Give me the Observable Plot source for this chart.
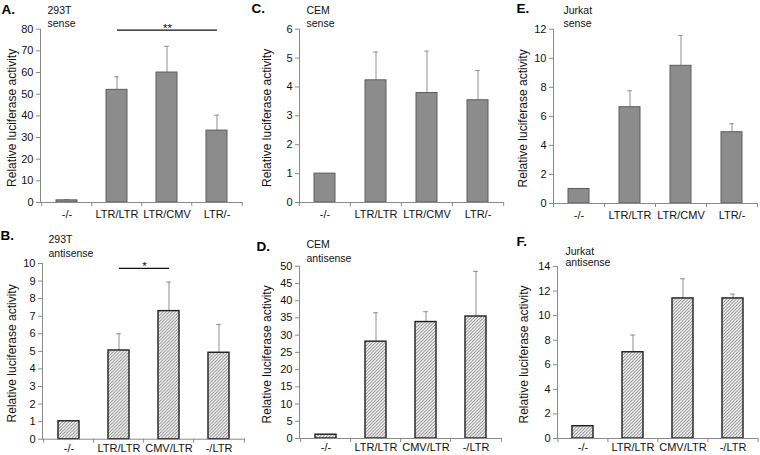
<!DOCTYPE html>
<html><head><meta charset="utf-8">
<script src="https://cdn.jsdelivr.net/npm/d3@7"></script>
<script src="https://cdn.jsdelivr.net/npm/@observablehq/plot@0.6"></script>
<style>
body{margin:0;background:#fff;}
#fig{position:relative;width:760px;height:455px;overflow:hidden;background:#fff;}
#fig svg{position:absolute;overflow:visible;}
</style></head><body><div id="fig"></div>
<script>
// ---- data ----
const senseCats = ["-/-", "LTR/LTR", "LTR/CMV", "LTR/-"];
const antisenseCats = ["-/-", "LTR/LTR", "CMV/LTR", "-/LTR"];

const meanA = [1.0, 52.0, 60.0, 33.2];   // 293T sense
const errA  = [0.3, 6.0, 12.1, 7.1];
const meanC = [1.0, 4.23, 3.79, 3.54];   // CEM sense
const errC  = [0, 0.98, 1.45, 1.03];
const meanE = [1.0, 6.63, 9.48, 4.91];   // Jurkat sense
const errE  = [0, 1.13, 2.09, 0.58];
const meanB = [1.02, 5.05, 7.29, 4.92];  // 293T antisense
const errB  = [0.04, 0.95, 1.65, 1.61];
const meanD = [1.1, 28.1, 33.8, 35.4];   // CEM antisense
const errD  = [0, 8.4, 3.0, 13.1];
const meanF = [1.0, 7.02, 11.4, 11.4];   // Jurkat antisense
const errF  = [0, 1.4, 1.6, 0.35];

const ticksA = d3.range(0, 81, 10);
const ticksC = d3.range(0, 7, 1);
const ticksE = d3.range(0, 13, 2);
const ticksB = d3.range(0, 11, 1);
const ticksD = d3.range(0, 51, 5);
const ticksF = d3.range(0, 15, 2);

const sigA = [{from: "LTR/LTR", to: "LTR/-", y: 79.6, label: "**"}];
const sigB = [{from: "LTR/LTR", to: "CMV/LTR", y: 9.72, label: "*"}];

const yLabel = "Relative luciferase activity";
const FONT = "'Liberation Sans', Arial, sans-serif";

function panel(cfg) {
  const {id, left, top, width, height, ml, mr, mt, mb, cats, means, errs, ticks, hatch,
         letter, cell, strand, letterPos, cellPos, strandY, ylabX, xPad, sig} = cfg;
  const data = cats.map((c, i) => ({c, v: means[i], e: errs[i]}));
  const withErr = data.filter(d => d.e > 0);
  const step = (width - ml - mr) / cats.length;
  const pi = 0.58;
  const bw = step * (1 - pi);
  const capInset = (bw - 5) / 2;
  const fx = x => x - left - ml;
  const fy = y => y - top - mt;
  const marks = [
    Plot.ruleX(withErr, {x: "c", y1: "v", y2: d => d.v + d.e, stroke: "#8f8f8f", strokeWidth: 1}),
    Plot.tickY(withErr, {x: "c", y: d => d.v + d.e, insetLeft: capInset, insetRight: capInset, stroke: "#8f8f8f", strokeWidth: 1}),
    Plot.barY(data, {x: "c", y: "v",
      fill: hatch ? `url(#hatch-${id})` : "#8c8c8c",
      stroke: hatch ? "#1e1e1e" : "#5c5c5c",
      strokeWidth: hatch ? 1.4 : 1}),
    Plot.frame({anchor: "left", stroke: "#8a8a8a"}),
    Plot.ruleY([0], {stroke: "#8a8a8a"}),
    Plot.ruleX(cats, {x: d => d, y1: 0, y2: 0, dx: -step / 2, insetBottom: -4, stroke: "#8a8a8a"}),
    Plot.ruleX([cats[cats.length - 1]], {x: d => d, y1: 0, y2: 0, dx: step / 2, insetBottom: -4, stroke: "#8a8a8a"}),
    Plot.axisY({ticks, tickSize: 4, tickPadding: 3, stroke: "#8a8a8a", fill: "#111", label: null, fontSize: 11, tickFormat: d => String(d)}),
    Plot.axisX({tickSize: 0, tickPadding: xPad, fill: "#111", label: null, fontSize: 11}),
    Plot.text([yLabel], {frameAnchor: "left", rotate: -90, dx: fx(ylabX), dy: 2, textAnchor: "middle", lineAnchor: "middle", fontSize: 12, fill: "#111"}),
    Plot.text([letter], {frameAnchor: "top-left", dx: fx(letterPos[0]), dy: fy(letterPos[1]), textAnchor: "start", lineAnchor: "bottom", fontSize: 13.5, fontWeight: "bold", fill: "#000"}),
    Plot.text([cell], {frameAnchor: "top-left", dx: fx(cellPos[0]), dy: fy(cellPos[1]), textAnchor: "start", lineAnchor: "bottom", fontSize: 10.5, fill: "#111"}),
    Plot.text([strand], {frameAnchor: "top-left", dx: fx(cellPos[0]), dy: fy(strandY), textAnchor: "start", lineAnchor: "bottom", fontSize: 10.5, fill: "#111"})
  ];
  if (sig) {
    marks.push(Plot.link(sig, {x1: "from", x2: "to", y1: "y", y2: "y", stroke: "#111", strokeWidth: 1.2}));
    for (const s of sig) {
      const half = (cats.indexOf(s.to) - cats.indexOf(s.from)) / 2 * step;
      marks.push(Plot.text([s], {x: "from", y: "y", text: "label", dx: half, dy: 1.5,
        lineAnchor: "bottom", fontSize: 11.5, fill: "#111"}));
    }
  }
  const svg = Plot.plot({
    width, height, marginLeft: ml, marginRight: mr, marginTop: mt, marginBottom: mb,
    style: {fontFamily: FONT, fontSize: "11px", color: "#111", background: "transparent", overflow: "visible"},
    x: {domain: cats, paddingInner: pi, paddingOuter: pi / 2},
    y: {domain: [0, ticks[ticks.length - 1]]},
    marks
  });
  if (hatch) {
    const pat = d3.select(svg).insert("defs", ":first-child").append("pattern")
      .attr("id", `hatch-${id}`).attr("patternUnits", "userSpaceOnUse")
      .attr("width", 3.2).attr("height", 3.2);
    pat.append("rect").attr("width", 3.2).attr("height", 3.2).attr("fill", "#fff");
    pat.append("path").attr("d", "M-0.8,0.8 L0.8,-0.8 M0,3.2 L3.2,0 M2.4,4 L4,2.4")
      .attr("stroke", "#7a7a7a").attr("stroke-width", 0.9);
  }
  svg.style.left = left + "px";
  svg.style.top = top + "px";
  document.getElementById("fig").appendChild(svg);
}

panel({id: "A", left: 0, top: 0, width: 245, height: 225, ml: 40, mr: 3, mt: 28.7, mb: 23,
  cats: senseCats, means: meanA, errs: errA, ticks: ticksA, hatch: false,
  letter: "A.", cell: "293T", strand: "sense", letterPos: [1, 13], cellPos: [47, 13], strandY: 26,
  ylabX: 12, xPad: 8, sig: sigA});
panel({id: "C", left: 250, top: 0, width: 257, height: 225, ml: 49, mr: 3, mt: 28.7, mb: 23,
  cats: senseCats, means: meanC, errs: errC, ticks: ticksC, hatch: false,
  letter: "C.", cell: "CEM", strand: "sense", letterPos: [251, 12], cellPos: [306, 13], strandY: 26,
  ylabX: 267, xPad: 8});
panel({id: "E", left: 500, top: 0, width: 260, height: 225, ml: 53, mr: 3, mt: 28.7, mb: 22,
  cats: senseCats, means: meanE, errs: errE, ticks: ticksE, hatch: false,
  letter: "E.", cell: "Jurkat", strand: "sense", letterPos: [516, 12], cellPos: [563, 13], strandY: 26,
  ylabX: 523, xPad: 8});
panel({id: "B", left: 0, top: 225, width: 248, height: 230, ml: 42, mr: 3, mt: 38, mb: 16.3,
  cats: antisenseCats, means: meanB, errs: errB, ticks: ticksB, hatch: true,
  letter: "B.", cell: "293T", strand: "antisense", letterPos: [0, 239], cellPos: [48, 242], strandY: 256,
  ylabX: 12, xPad: 5, sig: sigB});
panel({id: "D", left: 250, top: 225, width: 255, height: 230, ml: 49, mr: 3, mt: 40.7, mb: 17,
  cats: antisenseCats, means: meanD, errs: errD, ticks: ticksD, hatch: true,
  letter: "D.", cell: "CEM", strand: "antisense", letterPos: [256, 250], cellPos: [306, 247], strandY: 261,
  ylabX: 267, xPad: 5});
panel({id: "F", left: 500, top: 225, width: 260, height: 230, ml: 57, mr: 2, mt: 41, mb: 17,
  cats: antisenseCats, means: meanF, errs: errF, ticks: ticksF, hatch: true,
  letter: "F.", cell: "Jurkat", strand: "antisense", letterPos: [516, 245], cellPos: [565, 254], strandY: 265,
  ylabX: 524, xPad: 5});
</script></body></html>
